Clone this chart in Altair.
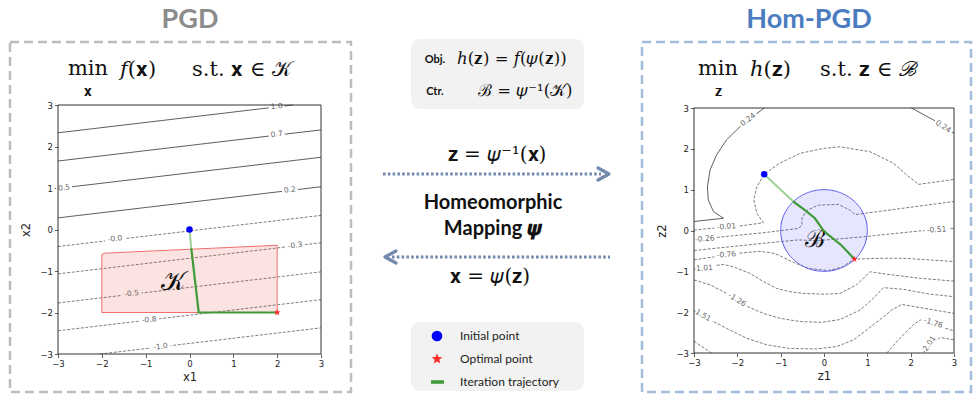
import math
import numpy as np
import pandas as pd
import altair as alt

W, H = 974, 394
SANS = "Lato"
SERIF = "DejaVu Serif"
AXF = "DejaVu Sans"
TICKS = [-3, -2, -1, 0, 1, 2, 3]

# ---------------- PGD: level lines of f (straight) and the set K ----------------
f_level = ["1.0", "0.7", "0.5", "0.2", "-0.0", "-0.3", "-0.5", "-0.8", "-1.0"]
f_x0 = [-3, -3, -3, -3, -3, -3, -3, -3, -2.04]
f_y0 = [2.33, 1.65, 0.99, 0.28, -0.41, -1.07, -1.77, -2.44, -3.0]
f_x1 = [2.36, 3, 3, 3, 3, 3, 3, 3, 3]
f_y1 = [3.0, 2.40, 1.74, 1.03, 0.34, -0.32, -1.02, -1.69, -2.37]
f_lab_x = [1.99, 1.99, -2.86, 2.29, -1.70, 2.41, -1.32, -0.92, -0.66]
f_lab_y = [2.96, 2.29, 1.00, 0.95, -0.23, -0.39, -1.55, -2.18, -2.83]
f_lab_angle = [353, 353, 353, 353, 353, 353, 353, 353, 353]

K_x = [-2.0, -1.93, 2.0]
K_top = [-0.60, -0.57, -0.38]
K_floor = -2.0
K_label = (-0.37, -1.26)

pgd_x = [0.0, 0.04, 0.21, 2.0]
pgd_y = [0.0, -0.45, -2.0, -2.0]

# ---------------- Hom-PGD: level lines of h = f(psi(z)) and the ball B ----------------
h_level = ["0.24", "0.24", "-0.01", "-0.26", "-0.51", "-0.76", "-1.01",
           "-1.26", "-1.51", "-1.76", "-1.76", "-2.01"]
h_x = [
    [-3.0, -2.32, -2.55, -2.67, -2.69, -2.63, -2.48, -2.25, -1.94, -1.70, -1.44, -1.38],
    [2.02, 2.52, 3.0],
    [-3.0, -2.63, -1.94, -1.40, -1.55, -1.62, -1.55, -1.38, -1.02, -0.55, -0.02, 0.37, 1.06, 1.60, 1.91, 2.18, 3.0],
    [-3.0, -2.2, -1.36, -0.59, -0.51, -0.51, -0.40, -0.13, 0.33, 0.60, 0.72, 3.0],
    [-3.0, -1.36, -0.59, -0.20, 0.18, 0.95, 1.29, 2.5, 3.0],
    [-3.0, -2.0, -1.48, -1.20, -1.05, -0.75, -0.36, 0.10, 0.41, 0.70, 1.29, 1.83, 3.0],
    [-3.0, -2.52, -2.32, -2.09, -1.71, -1.40, -1.09, -0.78, -0.48, 0.0, 0.37, 0.75, 0.95, 1.06, 1.45, 2.22, 3.0],
    [-3.0, -2.63, -2.25, -1.75, -1.40, -1.02, -0.55, -0.05, 0.37, 0.83, 1.14, 1.37, 1.83, 2.45, 3.0],
    [-3.0, -2.55, -2.17, -1.78, -1.32, -0.78, -0.17, 0.30, 0.68, 1.14, 1.56, 1.79, 3.0],
    [-3.0, -2.60],
    [1.45, 1.75, 2.06, 2.22, 3.0],
    [2.20, 2.45, 2.68, 3.0],
]
h_y = [
    [0.22, 0.30, 0.46, 0.75, 1.07, 1.48, 1.85, 2.22, 2.54, 2.75, 2.95, 3.0],
    [3.0, 2.71, 2.38],
    [0.01, 0.05, 0.11, 0.19, 0.42, 0.75, 1.07, 1.38, 1.65, 1.89, 2.01, 2.05, 1.93, 1.65, 1.36, 1.13, 1.25],
    [-0.23, -0.14, -0.05, 0.05, 0.13, 0.30, 0.49, 0.62, 0.64, 0.50, 0.39, 0.71],
    [-0.49, -0.31, -0.23, -0.25, -0.22, -0.15, -0.11, 0.02, 0.05],
    [-0.72, -0.56, -0.51, -0.55, -0.60, -0.76, -0.93, -0.98, -0.90, -0.70, -0.68, -0.68, -0.76],
    [-0.94, -0.86, -0.83, -0.89, -1.05, -1.25, -1.42, -1.50, -1.54, -1.56, -1.54, -1.33, -1.13, -1.01, -1.07, -1.17, -1.24],
    [-1.21, -1.33, -1.54, -1.87, -2.03, -2.15, -2.23, -2.25, -2.18, -1.95, -1.66, -1.40, -1.44, -1.56, -1.62],
    [-1.95, -2.23, -2.44, -2.64, -2.80, -2.89, -2.90, -2.84, -2.68, -2.31, -1.95, -1.81, -2.03],
    [-2.71, -3.0],
    [-3.0, -2.64, -2.31, -2.19, -2.46],
    [-3.0, -2.80, -2.62, -2.68],
]
h_lab = ["0.24", "0.24", "-0.01", "-0.26", "-0.51", "-0.76", "-1.01", "-1.26", "-1.51", "-1.76", "-2.01"]
h_lab_x = [-1.75, 2.75, -2.25, -2.75, 2.60, -2.25, -2.79, -2.01, -2.82, 2.52, 2.42]
h_lab_y = [2.71, 2.54, 0.09, -0.21, 0.01, -0.60, -0.93, -1.70, -2.07, -2.27, -2.80]
h_lab_angle = [322, 33, 355, 355, 356, 355, 356, 32, 30, 18, 305]

B_center = (0.0, 0.0)
B_radius = 1.0
B_label = (-0.21, -0.23)

hom_x = [-1.38, -0.71, -0.44, -0.21, -0.02, 0.06, 0.40, 0.70]
hom_y = [1.38, 0.71, 0.50, 0.30, 0.01, -0.07, -0.36, -0.70]

# ---------------- marker shapes ----------------
def star_path(r_in=0.42):
    pts = []
    for k in range(10):
        r = 1.0 if k % 2 == 0 else r_in
        a = math.pi * k / 5 - math.pi / 2
        pts.append(f"{r * math.cos(a):.3f},{r * math.sin(a):.3f}")
    return "M" + "L".join(pts) + "Z"


STAR = star_path()
MASK = "M-1,-0.32L1,-0.32L1,0.32L-1,0.32Z"   # white band behind contour labels


# ---------------- helpers ----------------
def plot_axes(xr, yr, xtitle, ytitle):
    common = dict(values=TICKS, format="d", domain=False, grid=False, tickSize=3.5,
                  tickColor="#333", tickWidth=0.8, labelFont=AXF, labelFontSize=8.5,
                  labelColor="#222", labelPadding=2, labelFlush=False, labelOverlap=False,
                  titleFont=AXF, titleFontSize=11.5, titleFontWeight="normal", titleColor="#222")
    ex = alt.X("x:Q", scale=alt.Scale(domain=[-3, 3], range=xr, nice=False, zero=False),
               axis=alt.Axis(title=xtitle, orient="bottom", offset=yr[0] - H, titlePadding=3, **common))
    ey = alt.Y("y:Q", scale=alt.Scale(domain=[-3, 3], range=yr, nice=False, zero=False),
               axis=alt.Axis(title=ytitle, orient="left", offset=-xr[0], titlePadding=8, **common))
    return ex, ey


def contour_df(levels, xs, ys):
    rows = []
    for cid, (lev, cxs, cys) in enumerate(zip(levels, xs, ys)):
        for k, (a, b) in enumerate(zip(cxs, cys)):
            rows.append(dict(cid=cid, ord=k, x=a, y=b, solid=float(lev) > 0))
    return pd.DataFrame(rows)


def label_df(texts, xs, ys, angles):
    d = pd.DataFrame(dict(label=texts, x=xs, y=ys, angle=angles))
    d["msize"] = [(len(t) * 4.3 + 3) ** 2 for t in texts]
    return d


def plot(ex, ey, cdf, ldf, region, letter, path, start_xy, end_xy):
    solid = alt.Chart(cdf[cdf.solid]).mark_line(color="#4d4d4d", strokeWidth=0.9).encode(
        x=ex, y=ey, detail="cid:N", order="ord:Q")
    dashed = alt.Chart(cdf[~cdf.solid]).mark_line(color="#6e6e6e", strokeWidth=0.9,
                                                 strokeDash=[3, 1.6]).encode(
        x=ex, y=ey, detail="cid:N", order="ord:Q")
    masks = alt.Chart(ldf).mark_point(shape=MASK, filled=True, color="white", opacity=1,
                                      strokeWidth=0).encode(
        x=ex, y=ey, angle=alt.Angle("angle:Q", scale=None), size=alt.Size("msize:Q", scale=None))
    labels = alt.Chart(ldf).mark_text(font=AXF, fontSize=7.5, color="#666").encode(
        x=ex, y=ey, text="label:N", angle=alt.Angle("angle:Q", scale=None))
    pdf = pd.DataFrame(dict(x=path[0], y=path[1], ord=range(len(path[0]))))
    light = alt.Chart(pdf.iloc[:2]).mark_line(color="#9fd196", strokeWidth=2).encode(
        x=ex, y=ey, order="ord:Q")
    dark = alt.Chart(pdf.iloc[1:]).mark_line(color="#3f9a37", strokeWidth=2.2).encode(
        x=ex, y=ey, order="ord:Q")
    sdf = pd.DataFrame(dict(x=[start_xy[0]], y=[start_xy[1]]))
    edf = pd.DataFrame(dict(x=[end_xy[0]], y=[end_xy[1]]))
    start = alt.Chart(sdf).mark_point(shape="circle", filled=True, color="#0000ff", size=42,
                                      opacity=1).encode(x=ex, y=ey)
    end = alt.Chart(edf).mark_point(shape=STAR, filled=True, color="#ff2b2b", size=48,
                                    opacity=1).encode(x=ex, y=ey)
    spine = alt.Chart(pd.DataFrame(dict(x=[-3], x2=[3], y=[-3], y2=[3]))).mark_rect(
        fillOpacity=0, stroke="#333", strokeWidth=1).encode(x=ex, x2="x2:Q", y=ey, y2="y2:Q")
    return alt.layer(solid, dashed, masks, labels, region, letter, light, dark, start, end, spine)


# ---------------- PGD panel ----------------
lx, ly = plot_axes([58, 321], [354, 105], "x1", "x2")
f_cdf = contour_df(f_level, [[a, b] for a, b in zip(f_x0, f_x1)],
                   [[a, b] for a, b in zip(f_y0, f_y1)])
f_ldf = label_df(f_level, f_lab_x, f_lab_y, f_lab_angle)
K_df = pd.DataFrame(dict(x=K_x, y=K_top, y2=[K_floor] * len(K_x)))
K_area = alt.Chart(K_df).mark_area(fill="#e53935", fillOpacity=0.14, stroke="#ef6f6f",
                                   strokeWidth=1).encode(x=lx, y=ly, y2="y2:Q")
K_text = alt.Chart(pd.DataFrame(dict(x=[K_label[0]], y=[K_label[1]], t=["𝒦"]))).mark_text(
    font=SERIF, fontSize=26, color="#111").encode(x=lx, y=ly, text="t:N")
left = plot(lx, ly, f_cdf, f_ldf, K_area, K_text, (pgd_x, pgd_y),
            (pgd_x[0], pgd_y[0]), (pgd_x[-1], pgd_y[-1]))

# ---------------- Hom-PGD panel ----------------
rx, ry = plot_axes([694, 954], [353, 108], "z1", "z2")
h_cdf = contour_df(h_level, h_x, h_y)
h_ldf = label_df(h_lab, h_lab_x, h_lab_y, h_lab_angle)
t = np.linspace(math.pi, 0, 121)
B_df = pd.DataFrame(dict(x=B_center[0] + B_radius * np.cos(t),
                         y=B_center[1] + B_radius * np.sin(t),
                         y2=B_center[1] - B_radius * np.sin(t)))
B_area = alt.Chart(B_df).mark_area(fill="#3b3bff", fillOpacity=0.13, stroke="#5757ee",
                                   strokeWidth=1).encode(x=rx, y=ry, y2="y2:Q")
B_text = alt.Chart(pd.DataFrame(dict(x=[B_label[0]], y=[B_label[1]], t=["ℬ"]))).mark_text(
    font=SERIF, fontSize=24, color="#111").encode(x=rx, y=ry, text="t:N")
right = plot(rx, ry, h_cdf, h_ldf, B_area, B_text, (hom_x, hom_y),
             (hom_x[0], hom_y[0]), (hom_x[-1], hom_y[-1]))

# ---------------- canvas: frames, titles, mapping arrows, legend ----------------
cx = alt.X("cx:Q", scale=alt.Scale(domain=[0, W], range=[0, W]), axis=None)
cy = alt.Y("cy:Q", scale=alt.Scale(domain=[0, H], range=[0, H]), axis=None)

frames = pd.DataFrame(dict(cx=[10, 642], cx2=[351, 971], cy=[42, 42], cy2=[392, 392],
                           col=["#bdbdbd", "#a3bcdc"]))
frame_layer = alt.Chart(frames).mark_rect(fill="white", fillOpacity=0, strokeWidth=2.5,
                                          strokeDash=[9, 5]).encode(
    x=cx, x2="cx2:Q", y=cy, y2="cy2:Q", stroke=alt.Stroke("col:N", scale=None))

boxes = pd.DataFrame(dict(cx=[411, 411], cx2=[584, 584], cy=[39, 322], cy2=[109, 391]))
box_layer = alt.Chart(boxes).mark_rect(color="#f2f2f2", cornerRadius=9).encode(
    x=cx, x2="cx2:Q", y=cy, y2="cy2:Q")

arrow_rows = []
for aid, (xa, xb, ya) in enumerate([(383, 601, 174), (392, 610, 257)]):
    arrow_rows += [dict(aid=aid, ord=0, cx=xa, cy=ya), dict(aid=aid, ord=1, cx=xb, cy=ya)]
arrow_df = pd.DataFrame(arrow_rows)
arrow_layer = alt.Chart(arrow_df).mark_line(color="#7189ad", strokeWidth=3,
                                            strokeDash=[2.6, 2.2]).encode(
    x=cx, y=cy, detail="aid:N", order="ord:Q")
head_df = pd.DataFrame(dict(hid=[0, 0, 0, 1, 1, 1], ord=[0, 1, 2, 0, 1, 2],
                            cx=[598, 609, 598, 396, 385, 396],
                            cy=[168, 174, 180, 251, 257, 263]))
head_layer = alt.Chart(head_df).mark_line(color="#7189ad", strokeWidth=3.2, strokeCap="round",
                                          strokeJoin="round").encode(
    x=cx, y=cy, detail="hid:N", order="ord:Q")

title_df = pd.DataFrame(dict(text=["PGD", "Hom-PGD"], cx=[190, 809], cy=[28, 28],
                             col=["#8c8c8c", "#4a7dbf"]))
title_layer = alt.Chart(title_df).mark_text(font=SANS, fontSize=27, fontWeight="bold",
                                            baseline="alphabetic").encode(
    x=cx, y=cy, text="text:N", color=alt.Color("col:N", scale=None))

bold_df = pd.DataFrame(dict(text=["Homeomorphic", "Mapping 𝝍", "Obj.", "Ctr."],
                            cx=[493, 493, 435, 435], cy=[203, 229, 60, 92], fs=[20, 20, 11, 11]))
bold_layer = alt.Chart(bold_df).mark_text(font=SANS, fontWeight="bold", baseline="middle",
                                          color="#111").encode(
    x=cx, y=cy, text="text:N", size=alt.Size("fs:Q", scale=None))

legend_df = pd.DataFrame(dict(text=["Initial point", "Optimal point", "Iteration trajectory"],
                              cx=[460, 460, 460], cy=[336, 359, 382]))
legend_text = alt.Chart(legend_df).mark_text(font=SANS, fontSize=12, align="left",
                                             baseline="middle", color="#222").encode(
    x=cx, y=cy, text="text:N")
leg_dot = alt.Chart(pd.DataFrame(dict(cx=[437], cy=[336]))).mark_point(
    shape="circle", filled=True, color="#0000ff", size=115, opacity=1).encode(x=cx, y=cy)
leg_star = alt.Chart(pd.DataFrame(dict(cx=[437], cy=[359]))).mark_point(
    shape=STAR, filled=True, color="#ff2b2b", size=130, opacity=1).encode(x=cx, y=cy)
leg_line = alt.Chart(pd.DataFrame(dict(cx=[431, 444], cy=[382, 382]))).mark_line(
    color="#3f9a37", strokeWidth=3.5).encode(x=cx, y=cy)

math_c = pd.DataFrame(dict(text=["min", "𝐱", "min", "𝐳", "𝐳 = 𝜓⁻¹(𝐱)", "𝐱 = 𝜓(𝐳)"],
                           cx=[88, 88, 718, 718, 497, 490],
                           cy=[75, 96, 75, 96, 161, 283],
                           fs=[21, 14, 21, 14, 20, 20]))
math_c_layer = alt.Chart(math_c).mark_text(font=SERIF, baseline="alphabetic",
                                           color="#111").encode(
    x=cx, y=cy, text="text:N", size=alt.Size("fs:Q", scale=None))
math_l = pd.DataFrame(dict(text=["𝑓(𝐱)", "s.t. 𝐱 ∈ 𝒦", "ℎ(𝐳)", "s.t. 𝐳 ∈ ℬ",
                                 "ℎ(𝐳) = 𝑓(𝜓(𝐳))", "ℬ = 𝜓⁻¹(𝒦)"],
                           cx=[120, 192, 750, 820, 457, 478],
                           cy=[76, 76, 76, 76, 64, 96],
                           fs=[21, 21, 21, 21, 16.5, 16.5]))
math_l_layer = alt.Chart(math_l).mark_text(font=SERIF, baseline="alphabetic", align="left",
                                           color="#111").encode(
    x=cx, y=cy, text="text:N", size=alt.Size("fs:Q", scale=None))

canvas = alt.layer(box_layer, frame_layer, arrow_layer, head_layer, title_layer, bold_layer,
                   legend_text, leg_dot, leg_star, leg_line, math_c_layer, math_l_layer)

chart = alt.layer(canvas, left, right).resolve_scale(
    x="independent", y="independent"
).properties(
    width=W, height=H, autosize=alt.AutoSizeParams(type="none"), padding=0, background="white"
).configure_view(strokeWidth=0)

chart.save("out.html", embed_options={"renderer": "svg", "actions": False})
